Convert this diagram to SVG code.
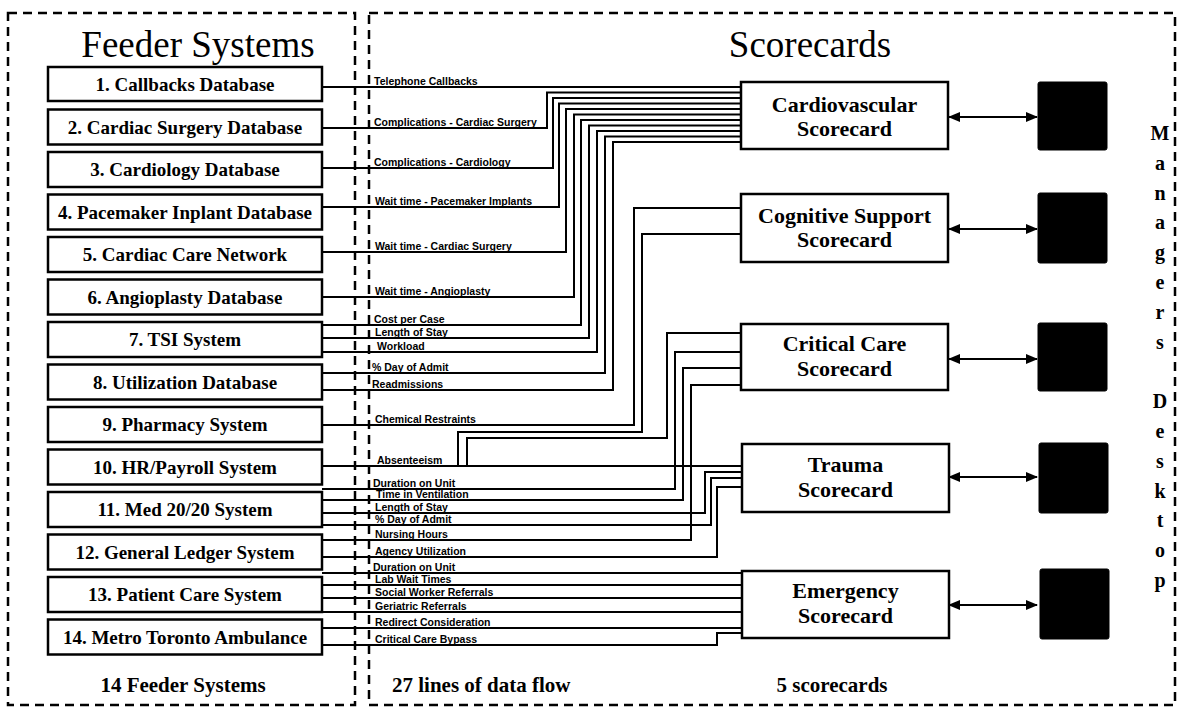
<svg xmlns="http://www.w3.org/2000/svg" width="1179" height="709" viewBox="0 0 1179 709">
  <style>
    .frame { fill: none; stroke: #000; stroke-width: 2.5; stroke-dasharray: 9 6; }
    .box { fill: #fff; stroke: #000; stroke-width: 2.5; }
    .desk { fill: #000; stroke: #000; stroke-width: 1; }
    .title { font-family: "Liberation Serif", "Times New Roman", serif; font-size: 37px; fill: #000; text-anchor: middle; }
    .feeder { font-family: "Liberation Serif", "Times New Roman", serif; font-size: 19px; font-weight: bold; fill: #000; text-anchor: middle; }
    .card { font-family: "Liberation Serif", "Times New Roman", serif; font-size: 22px; font-weight: bold; fill: #000; text-anchor: middle; }
    .foot { font-family: "Liberation Serif", "Times New Roman", serif; font-size: 21px; font-weight: bold; fill: #000; }
    .vert { font-family: "Liberation Serif", "Times New Roman", serif; font-size: 20px; font-weight: bold; fill: #000; text-anchor: middle; }
    .wire { fill: none; stroke: #000; stroke-width: 2; stroke-linejoin: miter; }
    .flow { font-family: "Liberation Sans", Arial, sans-serif; font-size: 10.5px; font-weight: bold; fill: #000; }
    .link { fill: none; stroke: #000; stroke-width: 2.2; marker-start: url(#head); marker-end: url(#head); }
  </style>
  <defs>
    <marker id="head" viewBox="0 0 12 10" refX="11" refY="5" markerWidth="12" markerHeight="10" markerUnits="userSpaceOnUse" orient="auto-start-reverse">
      <path d="M0,0 L12,5 L0,10 z" fill="#000"/>
    </marker>
  </defs>

  <rect width="1179" height="709" fill="#fff"/>

  <!-- dashed panels -->
  <g id="panels">
    <rect class="frame" x="8" y="13" width="347" height="692"/>
    <rect class="frame" x="369" y="13" width="806" height="692"/>
    <text class="title" x="198" y="57">Feeder Systems</text>
    <text class="title" x="810" y="57">Scorecards</text>
  </g>

  <!-- data flow lines -->
  <g id="connectors">
    <!-- Cardiovascular -->
    <path class="wire" d="M322,87 H741"/>
    <path class="wire" d="M322,128 H547 V92.5 H741"/>
    <path class="wire" d="M322,168 H553 V98 H741"/>
    <path class="wire" d="M322,207 H559 V103.5 H741"/>
    <path class="wire" d="M322,252 H566 V109 H741"/>
    <path class="wire" d="M322,297 H574 V114.5 H741"/>
    <path class="wire" d="M322,325 H581 V120 H741"/>
    <path class="wire" d="M322,338 H589 V125.5 H741"/>
    <path class="wire" d="M322,352 H597 V131 H741"/>
    <path class="wire" d="M322,373 H605 V136.5 H741"/>
    <path class="wire" d="M322,390 H613 V142 H741"/>
    <!-- Cognitive Support -->
    <path class="wire" d="M322,425 H634 V208 H741"/>
    <path class="wire" d="M458,466 V432 H642 V234 H741"/>
    <!-- Critical Care -->
    <path class="wire" d="M467,466 V438 H667 V333 H741"/>
    <path class="wire" d="M322,489 H675 V352 H741"/>
    <path class="wire" d="M322,500 H683 V368 H741"/>
    <path class="wire" d="M322,540 H691 V385 H741"/>
    <!-- Trauma -->
    <path class="wire" d="M322,466 H741"/>
    <path class="wire" d="M322,513 H705 V472 H741"/>
    <path class="wire" d="M322,525 H711 V478 H741"/>
    <path class="wire" d="M322,557 H717 V487 H741"/>
    <!-- Emergency -->
    <path class="wire" d="M322,573 H741"/>
    <path class="wire" d="M322,585 H741"/>
    <path class="wire" d="M322,598 H741"/>
    <path class="wire" d="M322,612 H741"/>
    <path class="wire" d="M322,628 H741"/>
    <path class="wire" d="M322,645 H717 V633 H741"/>

    <!-- scorecard to desktop links -->
    <path class="link" d="M949,117 H1037"/>
    <path class="link" d="M949,229 H1037"/>
    <path class="link" d="M949,359 H1037"/>
    <path class="link" d="M949,477 H1037"/>
    <path class="link" d="M949,605 H1037"/>

    <!-- flow labels -->
    <text class="flow" x="374" y="85">Telephone Callbacks</text>
    <text class="flow" x="374" y="126">Complications - Cardiac Surgery</text>
    <text class="flow" x="374" y="166">Complications - Cardiology</text>
    <text class="flow" x="375" y="205">Wait time - Pacemaker Implants</text>
    <text class="flow" x="375" y="250">Wait time - Cardiac Surgery</text>
    <text class="flow" x="375" y="295">Wait time - Angioplasty</text>
    <text class="flow" x="374" y="323">Cost per Case</text>
    <text class="flow" x="375" y="336">Length of Stay</text>
    <text class="flow" x="377" y="350">Workload</text>
    <text class="flow" x="372" y="371">% Day of Admit</text>
    <text class="flow" x="372" y="388">Readmissions</text>
    <text class="flow" x="375" y="423">Chemical Restraints</text>
    <text class="flow" x="377" y="464">Absenteeism</text>
    <text class="flow" x="373" y="487">Duration on Unit</text>
    <text class="flow" x="376" y="498">Time in Ventilation</text>
    <text class="flow" x="375" y="511">Length of Stay</text>
    <text class="flow" x="375" y="523">% Day of Admit</text>
    <text class="flow" x="375" y="538">Nursing Hours</text>
    <text class="flow" x="375" y="555">Agency Utilization</text>
    <text class="flow" x="373" y="571">Duration on Unit</text>
    <text class="flow" x="375" y="583">Lab Wait Times</text>
    <text class="flow" x="375" y="596">Social Worker Referrals</text>
    <text class="flow" x="375" y="610">Geriatric Referrals</text>
    <text class="flow" x="375" y="626">Redirect Consideration</text>
    <text class="flow" x="375" y="643">Critical Care Bypass</text>
  </g>

  <!-- feeder systems -->
  <g id="feeder-1"><rect class="box" x="48" y="67" width="274" height="34"/><text class="feeder" x="185" y="91">1. Callbacks Database</text></g>
  <g id="feeder-2"><rect class="box" x="48" y="109.5" width="274" height="35"/><text class="feeder" x="185" y="133.5">2. Cardiac Surgery Database</text></g>
  <g id="feeder-3"><rect class="box" x="48" y="152" width="274" height="35"/><text class="feeder" x="185" y="176">3. Cardiology Database</text></g>
  <g id="feeder-4"><rect class="box" x="48" y="194.5" width="274" height="35"/><text class="feeder" x="185" y="218.5">4. Pacemaker Inplant Database</text></g>
  <g id="feeder-5"><rect class="box" x="48" y="237" width="274" height="35"/><text class="feeder" x="185" y="261">5. Cardiac Care Network</text></g>
  <g id="feeder-6"><rect class="box" x="48" y="279.5" width="274" height="35"/><text class="feeder" x="185" y="303.5">6. Angioplasty Database</text></g>
  <g id="feeder-7"><rect class="box" x="48" y="322" width="274" height="35"/><text class="feeder" x="185" y="346">7. TSI System</text></g>
  <g id="feeder-8"><rect class="box" x="48" y="364.5" width="274" height="35"/><text class="feeder" x="185" y="388.5">8. Utilization Database</text></g>
  <g id="feeder-9"><rect class="box" x="48" y="407" width="274" height="35"/><text class="feeder" x="185" y="431">9. Pharmacy System</text></g>
  <g id="feeder-10"><rect class="box" x="48" y="449.5" width="274" height="35"/><text class="feeder" x="185" y="473.5">10. HR/Payroll System</text></g>
  <g id="feeder-11"><rect class="box" x="48" y="492" width="274" height="35"/><text class="feeder" x="185" y="516">11. Med 20/20 System</text></g>
  <g id="feeder-12"><rect class="box" x="48" y="534.5" width="274" height="35"/><text class="feeder" x="185" y="558.5">12. General Ledger System</text></g>
  <g id="feeder-13"><rect class="box" x="48" y="577" width="274" height="35"/><text class="feeder" x="185" y="601">13. Patient Care System</text></g>
  <g id="feeder-14"><rect class="box" x="48" y="619.5" width="274" height="35"/><text class="feeder" x="185" y="643.5">14. Metro Toronto Ambulance</text></g>

  <!-- scorecards -->
  <g id="card-cardiovascular"><rect class="box" x="741" y="82" width="207" height="67"/><text class="card" x="844.5" y="112">Cardiovascular</text><text class="card" x="844.5" y="136">Scorecard</text></g>
  <g id="card-cognitive"><rect class="box" x="741" y="194" width="207" height="68"/><text class="card" x="844.5" y="223">Cognitive Support</text><text class="card" x="844.5" y="247">Scorecard</text></g>
  <g id="card-critical"><rect class="box" x="741" y="324" width="207" height="66"/><text class="card" x="844.5" y="351">Critical Care</text><text class="card" x="844.5" y="376">Scorecard</text></g>
  <g id="card-trauma"><rect class="box" x="742" y="444" width="207" height="68"/><text class="card" x="845.5" y="472">Trauma</text><text class="card" x="845.5" y="497">Scorecard</text></g>
  <g id="card-emergency"><rect class="box" x="742" y="571" width="207" height="67"/><text class="card" x="845.5" y="598">Emergency</text><text class="card" x="845.5" y="623">Scorecard</text></g>

  <!-- manager desktops -->
  <g id="desk-1"><rect class="desk" x="1038" y="82" width="69" height="68" rx="2"/></g>
  <g id="desk-2"><rect class="desk" x="1038" y="193" width="69" height="70" rx="2"/></g>
  <g id="desk-3"><rect class="desk" x="1038" y="323" width="69" height="68" rx="2"/></g>
  <g id="desk-4"><rect class="desk" x="1039" y="443" width="69" height="70" rx="2"/></g>
  <g id="desk-5"><rect class="desk" x="1040" y="569" width="69" height="70" rx="2"/></g>

  <!-- vertical caption -->
  <g id="desktop-caption">
    <text class="vert" x="1160" y="140">M</text>
    <text class="vert" x="1160" y="169.8">a</text>
    <text class="vert" x="1160" y="199.6">n</text>
    <text class="vert" x="1160" y="229.4">a</text>
    <text class="vert" x="1160" y="259.2">g</text>
    <text class="vert" x="1160" y="289">e</text>
    <text class="vert" x="1160" y="318.8">r</text>
    <text class="vert" x="1160" y="348.6">s</text>
    <text class="vert" x="1160" y="408.2">D</text>
    <text class="vert" x="1160" y="438">e</text>
    <text class="vert" x="1160" y="467.8">s</text>
    <text class="vert" x="1160" y="497.6">k</text>
    <text class="vert" x="1160" y="527.4">t</text>
    <text class="vert" x="1160" y="557.2">o</text>
    <text class="vert" x="1160" y="587">p</text>
  </g>

  <!-- totals -->
  <g id="totals">
    <text class="foot" x="183" y="692" text-anchor="middle">14 Feeder Systems</text>
    <text class="foot" x="392" y="692">27 lines of data flow</text>
    <text class="foot" x="832" y="692" text-anchor="middle">5 scorecards</text>
  </g>
</svg>
